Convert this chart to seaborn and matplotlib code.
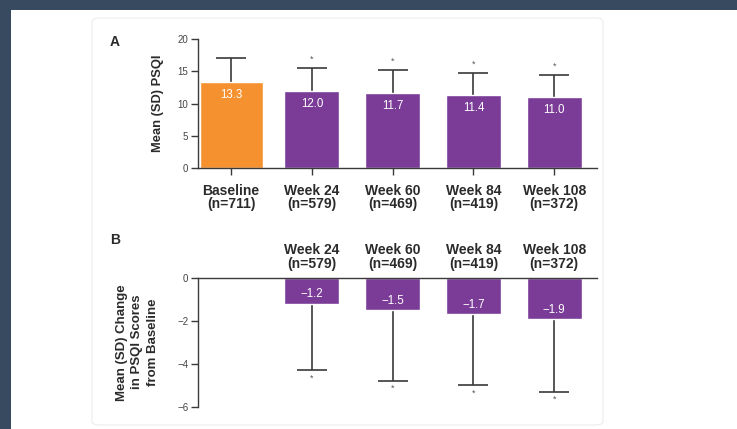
import numpy as np
import pandas as pd
import matplotlib
matplotlib.use("Agg")
import matplotlib.pyplot as plt
from matplotlib.patches import Rectangle, FancyBboxPatch
import seaborn as sns

# ── Data ──────────────────────────────────────────────────────────────────────
visits     = ['Baseline', 'Week 24', 'Week 60', 'Week 84', 'Week 108']
n_pts      = [711, 579, 469, 419, 372]
psqi_mean  = [13.3, 12.0, 11.7, 11.4, 11.0]
psqi_sd    = [3.7, 3.5, 3.5, 3.4, 3.5]

chg_visits = ['Week 24', 'Week 60', 'Week 84', 'Week 108']
chg_mean   = [-1.2, -1.5, -1.7, -1.9]
chg_sd     = [3.1, 3.3, 3.3, 3.4]

ORANGE = '#F5922F'
PURPLE = '#7B3C98'
DARK   = '#3a3a3a'
TXT    = '#2b2b2b'
CAP_W  = 0.37   # error-bar cap width in category units

sns.set_theme(style='white')
plt.rcParams['font.family'] = ['Liberation Sans', 'DejaVu Sans']

labels = [f'{v}\n(n={n})' for v, n in zip(visits, n_pts)]
df_a = pd.DataFrame({'visit': visits, 'mean': psqi_mean, 'sd': psqi_sd})
df_b = pd.DataFrame({'visit': chg_visits, 'mean': chg_mean, 'sd': chg_sd})

fig = plt.figure(figsize=(7.37, 4.29), dpi=100, facecolor='#374a5f')
# white page + faint card border
fig.patches.append(Rectangle((11 / 737, 0), 1, 1 - 10 / 429, transform=fig.transFigure,
                             facecolor='white', edgecolor='none', zorder=-2))
fig.patches.append(FancyBboxPatch((92 / 737, 4 / 429), (603 - 92) / 737, (411 - 4) / 429,
                                  boxstyle='round,pad=0,rounding_size=0.01',
                                  transform=fig.transFigure, facecolor='none',
                                  edgecolor='#ececec', lw=0.8, zorder=-1))

axA = fig.add_axes([198 / 737, 1 - 168.3 / 429, (597 - 198) / 737, (168.3 - 39) / 429])
axB = fig.add_axes([198 / 737, 1 - 406.7 / 429, (597 - 198) / 737, (406.7 - 277.7) / 429])
for ax in (axA, axB):
    ax.set_zorder(2)
    ax.patch.set_alpha(0)

# ── Panel A ───────────────────────────────────────────────────────────────────
sns.barplot(data=df_a, x='visit', y='mean', order=visits, hue='visit', legend=False,
            palette=[ORANGE] + [PURPLE] * 4, width=0.68, errorbar=None,
            saturation=1, ax=axA, zorder=2)
base = axA.patches[0]
base.set_x(-0.385); base.set_width(0.78)

x = np.arange(len(visits))
top_a = np.array(psqi_mean) + np.array(psqi_sd)
axA.vlines(x, psqi_mean, top_a, color=DARK, lw=1.2, zorder=1)
axA.hlines(top_a, x - CAP_W / 2, x + CAP_W / 2, color=DARK, lw=1.2, zorder=1)
for xi, m, t in zip(x, psqi_mean, top_a):
    axA.text(xi, m - 2.0, f'{m:.1f}', ha='center', va='center',
             color='white', fontsize=8.3, zorder=3)
    if xi > 0:
        axA.text(xi, t + 0.6, '*', ha='center', va='bottom',
                 color='#555555', fontsize=6.5)

axA.set_xlim(-0.41, 4.53)
axA.set_ylim(0, 20)
axA.set_yticks([0, 5, 10, 15, 20])
axA.set_xticks(x)
axA.set_xticklabels(labels, fontsize=10, fontweight='bold', color=TXT,
                    linespacing=0.95)
axA.set_xlabel('')
axA.set_ylabel('Mean (SD) PSQI', fontsize=9.3, fontweight='bold', color=TXT,
               labelpad=10)
axA.tick_params(axis='y', direction='out', length=5, width=1, color=DARK,
                labelsize=7, labelcolor='#444444', pad=2, left=True)
axA.tick_params(axis='x', direction='out', length=5, width=1, color=DARK, pad=6,
                bottom=True)
sns.despine(ax=axA)
for sp in ['left', 'bottom']:
    axA.spines[sp].set_color(DARK)
    axA.spines[sp].set_linewidth(1)

# ── Panel B ───────────────────────────────────────────────────────────────────
sns.barplot(data=df_b, x='visit', y='mean', order=visits, color=PURPLE,
            width=0.68, errorbar=None, saturation=1, ax=axB, zorder=2)
xb = np.arange(1, len(visits))
low_b = np.array(chg_mean) - np.array(chg_sd)
axB.vlines(xb, low_b, chg_mean, color=DARK, lw=1.2, zorder=1)
axB.hlines(low_b, xb - CAP_W / 2, xb + CAP_W / 2, color=DARK, lw=1.2, zorder=1)
for xi, m, lo in zip(xb, chg_mean, low_b):
    axB.text(xi, m + 0.42, f'\u2212{abs(m):.1f}', ha='center', va='center',
             color='white', fontsize=8.3, zorder=3)
    axB.text(xi, lo - 0.15, '*', ha='center', va='top',
             color='#555555', fontsize=6.5)

axB.set_xlim(-0.41, 4.53)
axB.set_ylim(-6, 0)
axB.set_yticks([0, -2, -4, -6])
axB.set_yticklabels(['0', '\u22122', '\u22124', '\u22126'])
axB.set_xticks(xb)
axB.set_xticklabels(labels[1:], fontsize=10, fontweight='bold', color=TXT,
                    linespacing=0.95)
axB.xaxis.tick_top()
axB.tick_params(axis='x', length=0, pad=5)
axB.set_xlabel('')
axB.set_ylabel('Mean (SD) Change\nin PSQI Scores\nfrom Baseline', fontsize=9.5,
               fontweight='bold', color=TXT, labelpad=13, linespacing=1.4)
axB.tick_params(axis='y', direction='out', length=5, width=1, color=DARK,
                labelsize=7, labelcolor='#444444', pad=2, left=True)
sns.despine(ax=axB, top=False, bottom=True, right=True)
for sp in ['left', 'top']:
    axB.spines[sp].set_color(DARK)
    axB.spines[sp].set_linewidth(1)

fig.text(115 / 737, 1 - 42 / 429, 'A', fontsize=10, fontweight='bold',
         color=TXT, ha='center', va='center')
fig.text(115 / 737, 1 - 240 / 429, 'B', fontsize=10, fontweight='bold',
         color=TXT, ha='center', va='center')

fig.savefig('out.png', dpi=100, facecolor=fig.get_facecolor())
